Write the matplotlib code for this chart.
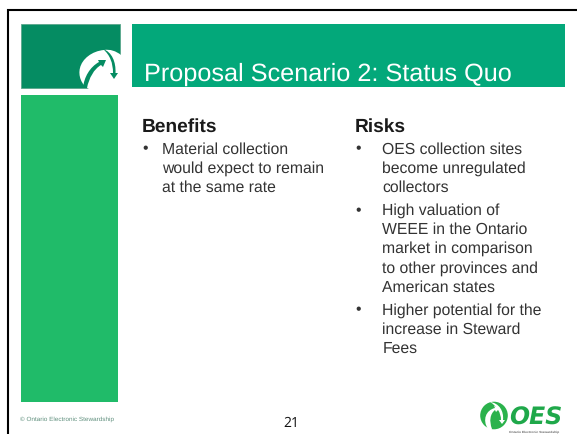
import matplotlib
matplotlib.use('Agg')
import matplotlib.pyplot as plt
from matplotlib.patches import Rectangle, Circle, PathPatch
from matplotlib.path import Path

plt.rcParams['font.family'] = ['Liberation Sans', 'DejaVu Sans']
plt.rcParams['text.hinting'] = 'no_hinting'

title = 'Proposal Scenario 2: Status Quo'
benefits_head = 'Benefits'
benefits = [['Material collection', 'would expect to remain', 'at the same rate']]
risks_head = 'Risks'
risks = [['OES collection sites', 'become unregulated', 'collectors'],
         ['High valuation of', 'WEEE in the Ontario', 'market in comparison', 'to other provinces and', 'American states'],
         ['Higher potential for the', 'increase in Steward', 'Fees']]
footer = '\u00a9 Ontario Electronic Stewardship'
page = '21'

W, H = 577, 434
fig = plt.figure(figsize=(W / 100, H / 100), dpi=100)
ax = fig.add_axes([0, 0, 1, 1])
ax.set_xlim(0, W)
ax.set_ylim(H, 0)
ax.axis('off')


def curve(start, *segs, fc='white'):
    # each seg is (ctrl1, ctrl2, end) or a single point for a straight bit
    verts, codes = [start], [Path.MOVETO]
    for s in segs:
        if len(s) == 3 and isinstance(s[0], tuple):
            verts += list(s)
            codes += [Path.CURVE4] * 3
        else:
            verts.append(s)
            codes.append(Path.LINETO)
    ax.add_patch(PathPatch(Path(verts, codes), fc=fc, ec='none', lw=0))


# slide frame, only left and top show
ax.plot([8, 8, 577], [434, 10, 10], color='black', lw=1.5, solid_joinstyle='miter')

# blocks
dark = '#058c62'
ax.add_patch(Rectangle((21.3, 24.3), 98.4, 63.4, fc=dark, ec='#5aa68c', lw=0.6))
ax.add_patch(Rectangle((132, 24), 433, 63, fc='#03a87a', ec='none'))
ax.add_patch(Rectangle((21, 95), 97, 307, fc='#20bb69', ec='none'))

# swoosh in the corner of the square
curve((89, 89), ((81, 85), (78, 75), (80, 68)), ((82, 59), (92, 51), (104, 50)),
      ((110, 49), (116, 51), (121, 55)), (121, 89))
curve((83, 88), ((84, 77), (90, 67), (99, 62)), (98, 60), (106, 60), (103, 67), (101, 65),
      ((94, 69), (89, 78), (87, 88)), fc=dark)
curve((103, 49), ((112, 52), (116, 62), (115.5, 73)), (118, 73), (114, 79), (110, 73), (113, 73),
      ((113, 63), (110, 55), (103, 49)), fc=dark)

ax.text(144, 80.5, title, color='white', fontsize=18.2, va='baseline')


def bullets(x_b, x_t, y, groups, dy=19.15, gap=3.8):
    for group in groups:
        ax.text(x_b, y, '\u2022', color='#333333', fontsize=11.3, va='baseline')
        for line in group:
            ax.text(x_t, y, line, color='#333333', fontsize=11.3, va='baseline')
            y += dy
        y += gap


ax.text(142, 132, benefits_head, color='#1a1a1a', fontsize=13.8, fontweight='bold', va='baseline')
bullets(142, 162, 153.5, benefits)
ax.text(355, 132, risks_head, color='#1a1a1a', fontsize=13.8, fontweight='bold', va='baseline')
bullets(355, 382.5, 153.5, risks)

ax.text(20, 421, footer, color='#5f8f7d', fontsize=4.6, va='baseline')
ax.text(291, 427, page, color='#111111', fontsize=10, family='Open Sans', ha='center', va='baseline')

# OES logo
logo = '#2bb24c'
ax.add_patch(Circle((494, 415.5), 13.8, fc=logo, ec='none'))
curve((488, 429), ((482, 420), (486, 410), (495, 408)), (494, 406), (500, 408), (496, 412), (495, 410),
      ((490, 414), (489, 421), (492, 429)))
curve((490, 402), ((499, 403), (504, 411), (503, 420)), (505, 420), (502, 424), (499, 420), (501, 420),
      ((501, 413), (497, 406), (490, 402)))
ax.text(509.5, 425, 'OES', color='#1fa84a', fontsize=17, family='DejaVu Sans', fontweight='bold',
        style='italic', va='baseline')
ax.text(534, 432, 'Ontario Electronic Stewardship', color='#666666', fontsize=2.4, fontweight='bold',
        ha='center', va='baseline')

fig.savefig('out.png', dpi=100)
